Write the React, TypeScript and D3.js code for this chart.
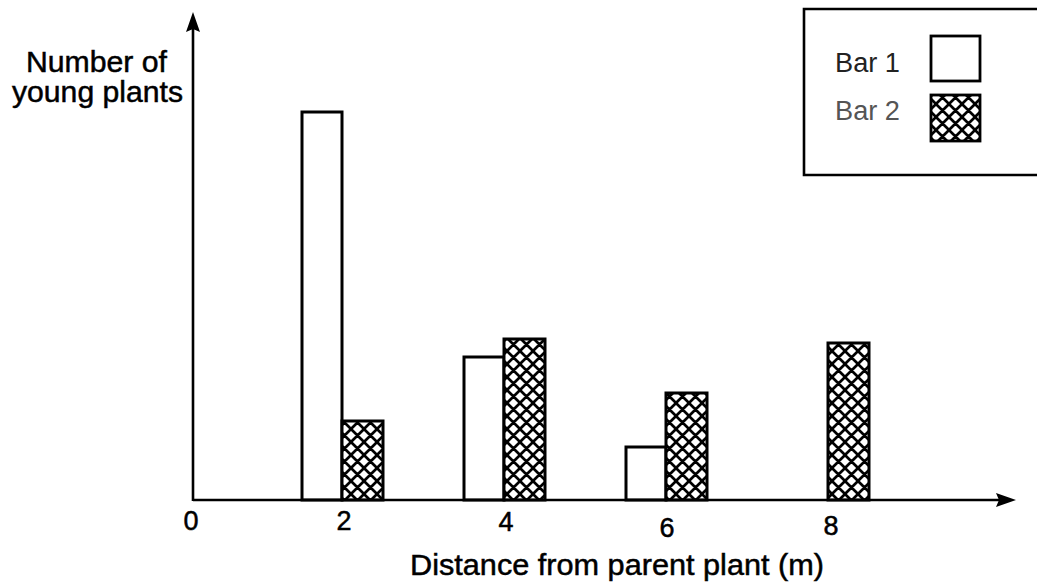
import React from "react";
import * as d3 from "d3";

// ---- data ----
const distances = [2, 4, 6, 8];
const bar1Values = [38.8, 14.3, 5.3, 0];
const bar2Values = [7.9, 16.1, 10.7, 15.7];
const xTickValues = [0, 2, 4, 6, 8];
const seriesNames = ["Bar 1", "Bar 2"];
const yAxisTitle = ["Number of", "young plants"];
const xAxisTitle = "Distance from parent plant (m)";

const W = 1037;
const H = 584;
const FONT = "'Liberation Sans', Arial, Helvetica, sans-serif";

export default function App() {
  const x = d3.scaleLinear().domain([0, 8]).range([180, 828]);
  const y = d3.scaleLinear().domain([0, 48.8]).range([500, 12]);
  const barW = 40;
  const axisX = 193;
  const baseY = y(0);

  const tickBaseline: Record<number, number> = { 0: 530, 2: 530, 4: 531, 6: 537, 8: 535 };
  const tickShift: Record<number, number> = { 0: 11, 2: 2, 4: 2, 6: 1, 8: 3 };
  const heavy = { stroke: "#000", strokeWidth: 0.5 };

  return (
    <svg
      width={W}
      height={H}
      viewBox={`0 0 ${W} ${H}`}
      style={{ position: "absolute", left: 0, top: 0, background: "#fff" }}
    >
      <defs>
        <pattern id="xhatch" width={13} height={13} patternUnits="userSpaceOnUse" x={0} y={0}>
          <rect width={13} height={13} fill="#fff" />
          <path d="M-3,-3 L16,16 M-3,10 L3,16 M10,-3 L16,3 M16,-3 L-3,16 M16,10 L10,16 M3,-3 L-3,3"
            stroke="#000" strokeWidth={2.7} fill="none" />
        </pattern>
      </defs>

      {/* bars */}
      {distances.map((d, i) => {
        const v1 = bar1Values[i];
        const v2 = bar2Values[i];
        return (
          <g key={d}>
            {v1 > 0 && (
              <rect x={x(d) - barW} y={y(v1)} width={barW} height={baseY - y(v1)}
                fill="#fff" stroke="#000" strokeWidth={3} />
            )}
            {v2 > 0 && (
              <rect x={x(d)} y={y(v2)} width={barW + 1} height={baseY - y(v2)}
                fill="url(#xhatch)" stroke="#000" strokeWidth={3} />
            )}
          </g>
        );
      })}

      {/* axes */}
      <line x1={axisX} y1={baseY} x2={1000} y2={baseY} stroke="#000" strokeWidth={2.6} />
      <path d={`M1016,${baseY} L996,${baseY - 7} L999,${baseY} L996,${baseY + 7} Z`} fill="#000" />
      <line x1={axisX} y1={baseY + 1} x2={axisX} y2={28} stroke="#000" strokeWidth={2.6} />
      <path d={`M${axisX},12 L${axisX - 7},32 L${axisX},29 L${axisX + 7},32 Z`} fill="#000" />

      {/* x tick labels */}
      {xTickValues.map((t) => (
        <text key={t} x={x(t) + tickShift[t]} y={tickBaseline[t]} textAnchor="middle"
          fontFamily={FONT} fontSize={27} fill="#000" {...heavy}>{t}</text>
      ))}

      {/* axis titles */}
      <text x={26} y={72} fontFamily={FONT} fontSize={30} fill="#000" {...heavy}
        textLength={141} lengthAdjust="spacingAndGlyphs">{yAxisTitle[0]}</text>
      <text x={12} y={102} fontFamily={FONT} fontSize={30} fill="#000" {...heavy}
        textLength={171} lengthAdjust="spacingAndGlyphs">{yAxisTitle[1]}</text>
      <text x={410} y={575} fontFamily={FONT} fontSize={30} fill="#000" {...heavy}
        textLength={414} lengthAdjust="spacingAndGlyphs">{xAxisTitle}</text>

      {/* legend */}
      <path d={`M${W + 5},9 L804,9 L804,175 L${W + 5},175`} fill="#fff" stroke="#000" strokeWidth={2.6} />
      {seriesNames.map((name, i) => (
        <g key={name}>
          <text x={835} y={[72, 120][i]} fontFamily={FONT} fontSize={27} fill={i === 0 ? "#222" : "#555"}
            textLength={65} lengthAdjust="spacingAndGlyphs">{name}</text>
          <rect x={931} y={[36, 95][i]} width={49} height={[45, 46][i]}
            fill={i === 0 ? "#fff" : "url(#xhatch)"} stroke="#000" strokeWidth={2.8} />
        </g>
      ))}
    </svg>
  );
}
